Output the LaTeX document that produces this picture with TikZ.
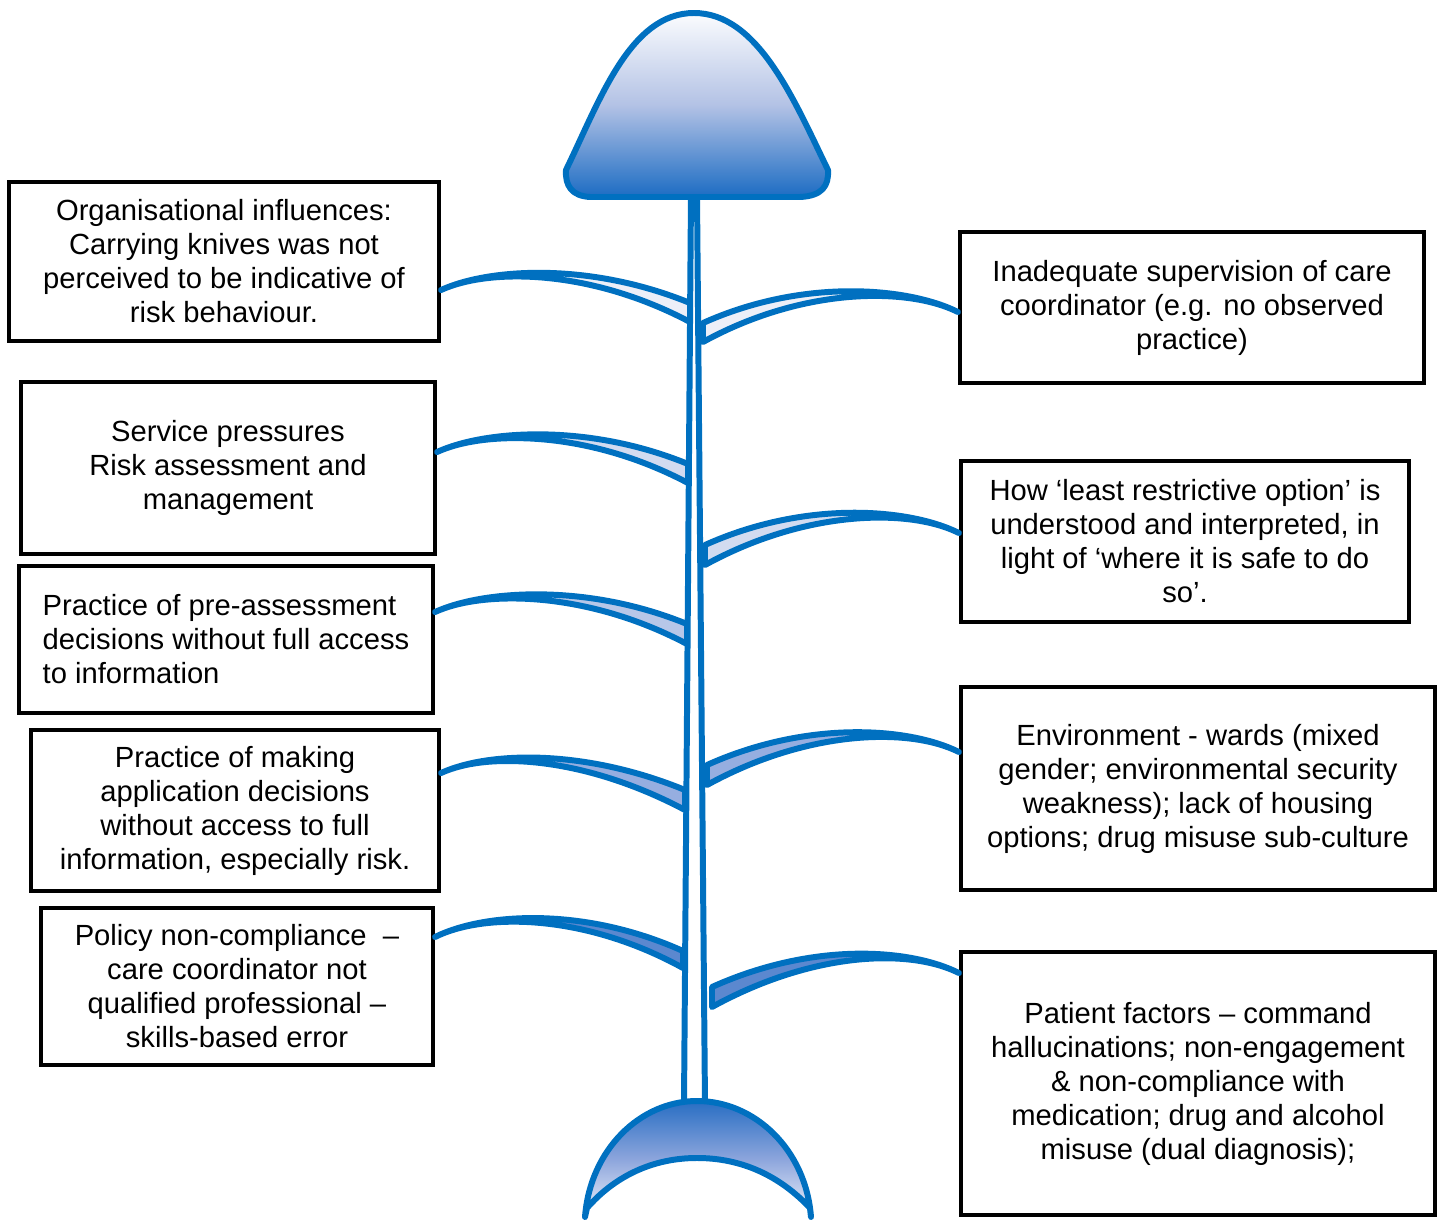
\documentclass[tikz,border=0pt]{standalone}
\usepackage{fontspec}
\setmainfont{Liberation Sans}
\definecolor{fishblue}{RGB}{0,112,192}
\definecolor{headtop}{RGB}{251,252,254}
\definecolor{headmid}{RGB}{179,194,229}
\definecolor{headbot}{RGB}{28,108,195}
\definecolor{tailtop}{RGB}{40,110,195}
\definecolor{tailmid}{RGB}{140,165,220}
\definecolor{tailbot}{RGB}{240,243,251}
\definecolor{boneA}{RGB}{236,239,248}
\definecolor{boneB}{RGB}{210,219,240}
\definecolor{boneC}{RGB}{183,199,232}
\definecolor{boneD}{RGB}{150,174,224}
\definecolor{boneE}{RGB}{91,136,207}
\usetikzlibrary{positioning}

\begin{document}
\begin{tikzpicture}[x=0.01cm, y=-0.01cm,
    cause/.style={rectangle, draw=black, line width=1.1pt, inner sep=0pt, align=center,
        font=\fontsize{8.3}{9.67}\selectfont},
    bone/.style={draw=fishblue, line width=1.7pt, line join=round}
]
    \useasboundingbox (0,0) rectangle (1441,1221);

    % Spine
    \draw[bone, fill=white] (691,195) -- (684,1104) -- (705,1104) -- (697,195) -- cycle;

    % Head
    \draw[bone, top color=headtop, bottom color=headbot, middle color=headmid]
        (590,197) .. controls (572,196) and (565,186) .. (566,170)
        .. controls (600,100) and (630,13) .. (694,13)
        .. controls (758,13) and (794,100) .. (828,170)
        .. controls (829,186) and (822,196) .. (800,197) -- cycle;

    % Tail
    \draw[bone, top color=tailtop, bottom color=tailbot, middle color=tailmid]
        (585,1217) .. controls (590,1150) and (640,1101) .. (697,1101)
        .. controls (755,1101) and (806,1150) .. (811,1217)
        -- (810,1208) .. controls (780,1176) and (742,1158) .. (697,1158)
        .. controls (653,1158) and (615,1176) .. (587,1208) -- cycle;

    % Causes, left
    \node[cause, minimum width=4.30cm, minimum height=1.59cm] (org) at (224,261.5)
        {Organisational influences:\\Carrying knives was not\\perceived to be indicative of\\risk behaviour.};
    \node[cause, minimum width=4.14cm, minimum height=1.72cm] (press) at (228,468)
        {Service pressures\\Risk assessment and\\management};
    \node[cause, minimum width=4.14cm, minimum height=1.47cm, align=left] (preass) at (226,639.5)
        {Practice of pre-assessment\\decisions without full access\\to information};
    \node[cause, minimum width=4.08cm, minimum height=1.61cm] (applic) at (235,810.5)
        {Practice of making\\application decisions\\without access to full\\information, especially risk.};
    \node[cause, minimum width=3.92cm, minimum height=1.57cm] (policy) at (237,986.5)
        {Policy non-compliance \ –\\care coordinator not\\qualified professional –\\skills-based error};

    % Causes, right
    \node[cause, minimum width=4.64cm, minimum height=1.51cm] (superv) at (1192,307.5)
        {Inadequate supervision of care\\coordinator (e.g. no observed\\practice)};
    \node[cause, minimum width=4.48cm, minimum height=1.61cm] (restrict) at (1185,541.5)
        {How ‘least restrictive option’ is\\understood and interpreted, in\\light of ‘where it is safe to do\\so’.};
    \node[cause, minimum width=4.74cm, minimum height=2.03cm] (environ) at (1198,788.5)
        {Environment - wards (mixed\\gender; environmental security\\weakness); lack of housing\\options; drug misuse sub-culture};
    \node[cause, minimum width=4.74cm, minimum height=2.63cm] (patient) at (1198,1083.5)
        {Patient factors – command\\hallucinations; non-engagement\\\& non-compliance with\\medication; drug and alcohol\\misuse (dual diagnosis);};

    % Bone ends
    \coordinate (org-s) at (org.east |- 0,290);
    \coordinate (org-t) at (690,303);
    \coordinate (press-s) at (press.east |- 0,452);
    \coordinate (press-t) at (688,464);
    \coordinate (preass-s) at (preass.east |- 0,612);
    \coordinate (preass-t) at (687,624);
    \coordinate (applic-s) at (applic.east |- 0,773);
    \coordinate (applic-t) at (685,790);
    \coordinate (policy-s) at (policy.east |- 0,937);
    \coordinate (policy-t) at (683,951);
    \coordinate (superv-e) at (superv.west |- 0,312);
    \coordinate (superv-t) at (703,323);
    \coordinate (restrict-e) at (restrict.west |- 0,533);
    \coordinate (restrict-t) at (705,545);
    \coordinate (environ-e) at (environ.west |- 0,752);
    \coordinate (environ-t) at (707,765);
    \coordinate (patient-e) at (patient.west |- 0,973);
    \coordinate (patient-t) at (712,987);

    % Bones, left
    \draw[bone, fill=boneA] (org-s) .. controls +(48,-22) and +(-100,-41) .. (org-t)
        -- ++(0,19) .. controls +(-100,-53) and +(48,-22) .. (org-s) -- cycle;
    \draw[bone, fill=boneB] (press-s) .. controls +(48,-22) and +(-100,-41) .. (press-t)
        -- ++(0,19) .. controls +(-100,-53) and +(48,-22) .. (press-s) -- cycle;
    \draw[bone, fill=boneC] (preass-s) .. controls +(48,-22) and +(-100,-41) .. (preass-t)
        -- ++(0,20) .. controls +(-100,-53) and +(48,-22) .. (preass-s) -- cycle;
    \draw[bone, fill=boneD] (applic-s) .. controls +(48,-22) and +(-100,-41) .. (applic-t)
        -- ++(0,20) .. controls +(-100,-53) and +(48,-22) .. (applic-s) -- cycle;
    \draw[bone, fill=boneE] (policy-s) .. controls +(48,-24) and +(-100,-45) .. (policy-t)
        -- ++(0,17) .. controls +(-100,-55) and +(48,-24) .. (policy-s) -- cycle;

    % Bones, right
    \draw[bone, fill=boneA] (superv-e) .. controls +(-50,-25) and +(100,-45) .. (superv-t)
        -- ++(0,19) .. controls +(100,-55) and +(-50,-25) .. (superv-e) -- cycle;
    \draw[bone, fill=boneB] (restrict-e) .. controls +(-50,-25) and +(100,-45) .. (restrict-t)
        -- ++(0,20) .. controls +(100,-55) and +(-50,-25) .. (restrict-e) -- cycle;
    \draw[bone, fill=boneD] (environ-e) .. controls +(-50,-25) and +(100,-45) .. (environ-t)
        -- ++(0,20) .. controls +(100,-55) and +(-50,-25) .. (environ-e) -- cycle;
    \draw[bone, fill=boneE] (patient-e) .. controls +(-50,-25) and +(100,-45) .. (patient-t)
        -- ++(0,20) .. controls +(100,-55) and +(-50,-25) .. (patient-e) -- cycle;
\end{tikzpicture}
\end{document}
